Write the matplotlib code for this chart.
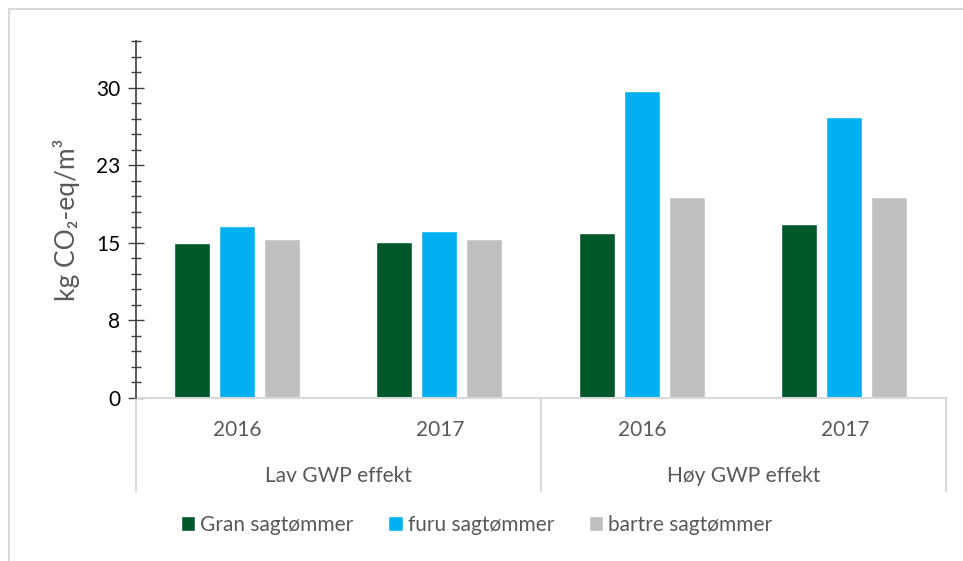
import matplotlib
matplotlib.use("Agg")
import matplotlib.pyplot as plt
from matplotlib.lines import Line2D
import numpy as np

plt.rcParams['font.family'] = ['Lato', 'DejaVu Sans']

# data
years = ['2016', '2017', '2016', '2017']
groups = ['Lav GWP effekt', 'Høy GWP effekt']
series = ['Gran sagtømmer', 'furu sagtømmer', 'bartre sagtømmer']
gran = [14.9, 15.0, 15.8, 16.7]
furu = [16.5, 16.05, 29.55, 27.1]
bartre = [15.3, 15.3, 19.3, 19.35]
colors = ['#00572a', '#00b0f0', '#bfbfbf']
yticks = [0, 7.5, 15, 22.5, 30]
ytick_labels = ['0', '8', '15', '23', '30']

fig = plt.figure(figsize=(9.63, 5.61), dpi=100)
ax = fig.add_axes([136 / 963, 1 - 397.7 / 561, 810 / 963, 356.7 / 561])

x = np.arange(len(years))
w = 0.173
off = 0.222
for i, (vals, name) in enumerate(zip([gran, furu, bartre], series)):
    ax.bar(x + (i - 1) * off, vals, w, color=colors[i], label=name,
           edgecolor='white', linewidth=0.3)

ax.set_xlim(-0.5, 3.5)
ax.set_ylim(0, 34.5)
ax.set_yticks(yticks)
ax.set_yticklabels(ytick_labels, fontsize=15, color='black')
ax.set_yticks(np.arange(0, 34.6, 1.5), minor=True)
ax.tick_params(axis='y', which='major', direction='inout', length=11, width=1, color='#404040', pad=6)
ax.tick_params(axis='y', which='minor', direction='inout', length=7, width=1, color='#404040')
ax.set_xticks([])
for s in ['top', 'right', 'bottom']:
    ax.spines[s].set_visible(False)
ax.spines['left'].set_color('#404040')
ax.spines['left'].set_linewidth(1.2)

ax.set_ylabel('kg CO₂-eq/m³', fontsize=19, color='#595959')
ax.yaxis.set_label_coords(-0.069, 0.5)

# category axis (two levels)
tr = ax.get_xaxis_transform()
depth = -0.2616
ax.add_line(Line2D([-0.5, 3.5], [0, 0], transform=tr, color='#d9d9d9', lw=1.5, clip_on=False))
for xv in [-0.5, 1.5, 3.5]:
    ax.add_line(Line2D([xv, xv], [0, depth], transform=tr, color='#d9d9d9', lw=1.5, clip_on=False))
for xi, yr in zip(x, years):
    ax.text(xi, -0.0906, yr, transform=tr, ha='center', va='center', fontsize=15, color='#595959')
for gi, g in enumerate(groups):
    ax.text(0.5 + 2 * gi, -0.2195, g, transform=tr, ha='center', va='center', fontsize=15, color='#595959')

# outer chart frame
fig.add_artist(Line2D([8.5 / 963, 8.5 / 963], [0, 1 - 8.5 / 561], transform=fig.transFigure, color='#d9d9d9', lw=1.5))
fig.add_artist(Line2D([8.5 / 963, 1], [1 - 8.5 / 561, 1 - 8.5 / 561], transform=fig.transFigure, color='#d9d9d9', lw=1.5))

fig.legend(loc='center', bbox_to_anchor=(477 / 963, 1 - 525 / 561), ncol=3, frameon=False,
           fontsize=15, labelcolor='#595959', handlelength=0.65, handleheight=0.65,
           handletextpad=0.25, columnspacing=1.7)

fig.savefig('out.png', dpi=100)
